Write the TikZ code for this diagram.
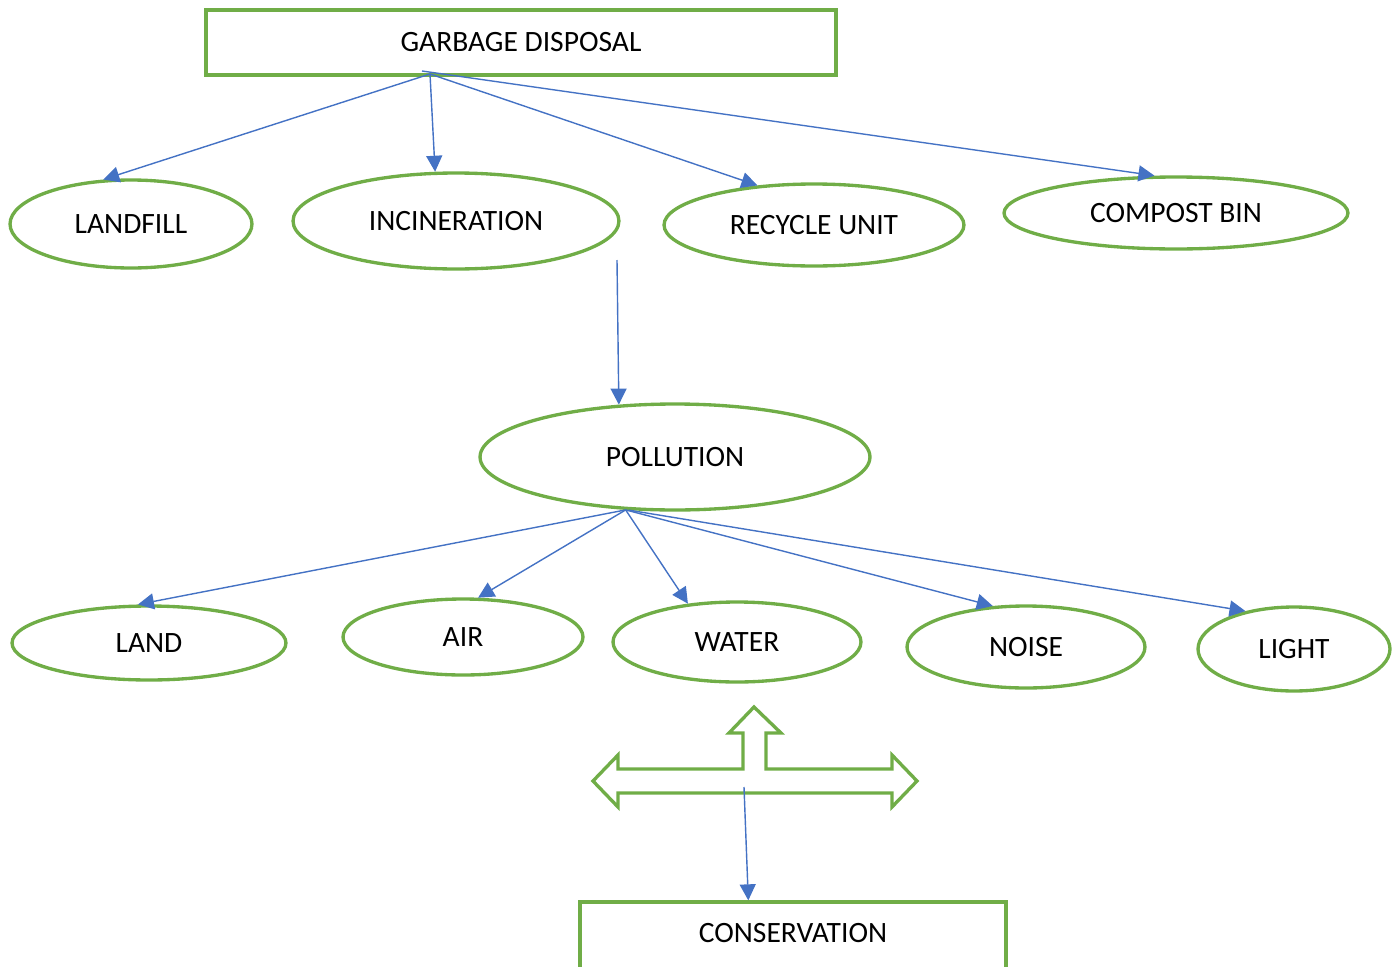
\documentclass[tikz,border=0pt]{standalone}
\usepackage{fontspec}
\setmainfont{Carlito}
\usetikzlibrary{shapes.geometric,arrows.meta}
\definecolor{ogreen}{HTML}{70AD47}
\definecolor{oblue}{HTML}{4472C4}
\begin{document}
\begin{tikzpicture}[x=0.02cm,y=-0.02cm,
  box/.style={draw=ogreen,line width=1.9pt,rectangle,inner sep=0pt},
  oval/.style={draw=ogreen,line width=1.9pt,ellipse,inner sep=0pt},
  link/.style={oblue,line width=0.8pt,-{Triangle[length=0.32cm,width=0.32cm]}},
  font=\fontsize{16.8}{19}\selectfont]
\useasboundingbox (0,0) rectangle (1397,967);
\clip (0,0) rectangle (1397,967);
\node[box,minimum width=12.6cm,minimum height=1.3cm](gd) at (521,42.5){GARBAGE DISPOSAL};
\node[oval,minimum width=4.84cm,minimum height=1.76cm](lf) at (131,224){LANDFILL};
\node[oval,minimum width=6.52cm,minimum height=1.92cm](inc) at (456,221){INCINERATION};
\node[oval,minimum width=6cm,minimum height=1.64cm](rec) at (814,225){RECYCLE UNIT};
\node[oval,minimum width=6.88cm,minimum height=1.44cm](cmp) at (1176,213){COMPOST BIN};
\node[oval,minimum width=7.8cm,minimum height=2.12cm](pol) at (675,457){POLLUTION};
\node[oval,minimum width=5.48cm,minimum height=1.48cm](land) at (149,643){LAND};
\node[oval,minimum width=4.8cm,minimum height=1.52cm](air) at (463,637){AIR};
\node[oval,minimum width=4.96cm,minimum height=1.6cm](wat) at (737,642){WATER};
\node[oval,minimum width=4.76cm,minimum height=1.64cm](noi) at (1026,647){NOISE};
\node[oval,minimum width=3.84cm,minimum height=1.68cm](lig) at (1294,649){LIGHT};
\node[box,minimum width=8.52cm,minimum height=1.6cm,text height=0.4cm,text depth=0.4cm](cons) at (793,942){CONSERVATION};
% double arrow with a third head upwards
\draw[ogreen,line width=1.9pt](754,707)--(781,733)--(766,733)--(766,769)--(892,769)--(892,755)--(917,781)
  --(892,807)--(892,793)--(618,793)--(618,807)--(593,781)--(618,755)--(618,769)--(743,769)--(743,733)--(729,733)--cycle;
\coordinate (gs) at (430,74);
\coordinate (is) at (617,260);
\coordinate (xs) at (744,787);
\draw[link](gs)--(lf.122);
\draw[link](gs)--(inc.113);
\draw[link](gs)--(rec.145);
\draw[link](422,71)--(cmp.120);
\draw[link](is)--(pol.137);
\draw[link](pol.227)--(land.106);
\draw[link](pol.227)--(air.69);
\draw[link](pol.227)--(wat.142);
\draw[link](pol.227)--(noi.129);
\draw[link](pol.229)--(lig.142);
\draw[link](xs)--(cons.137);
\end{tikzpicture}
\end{document}
